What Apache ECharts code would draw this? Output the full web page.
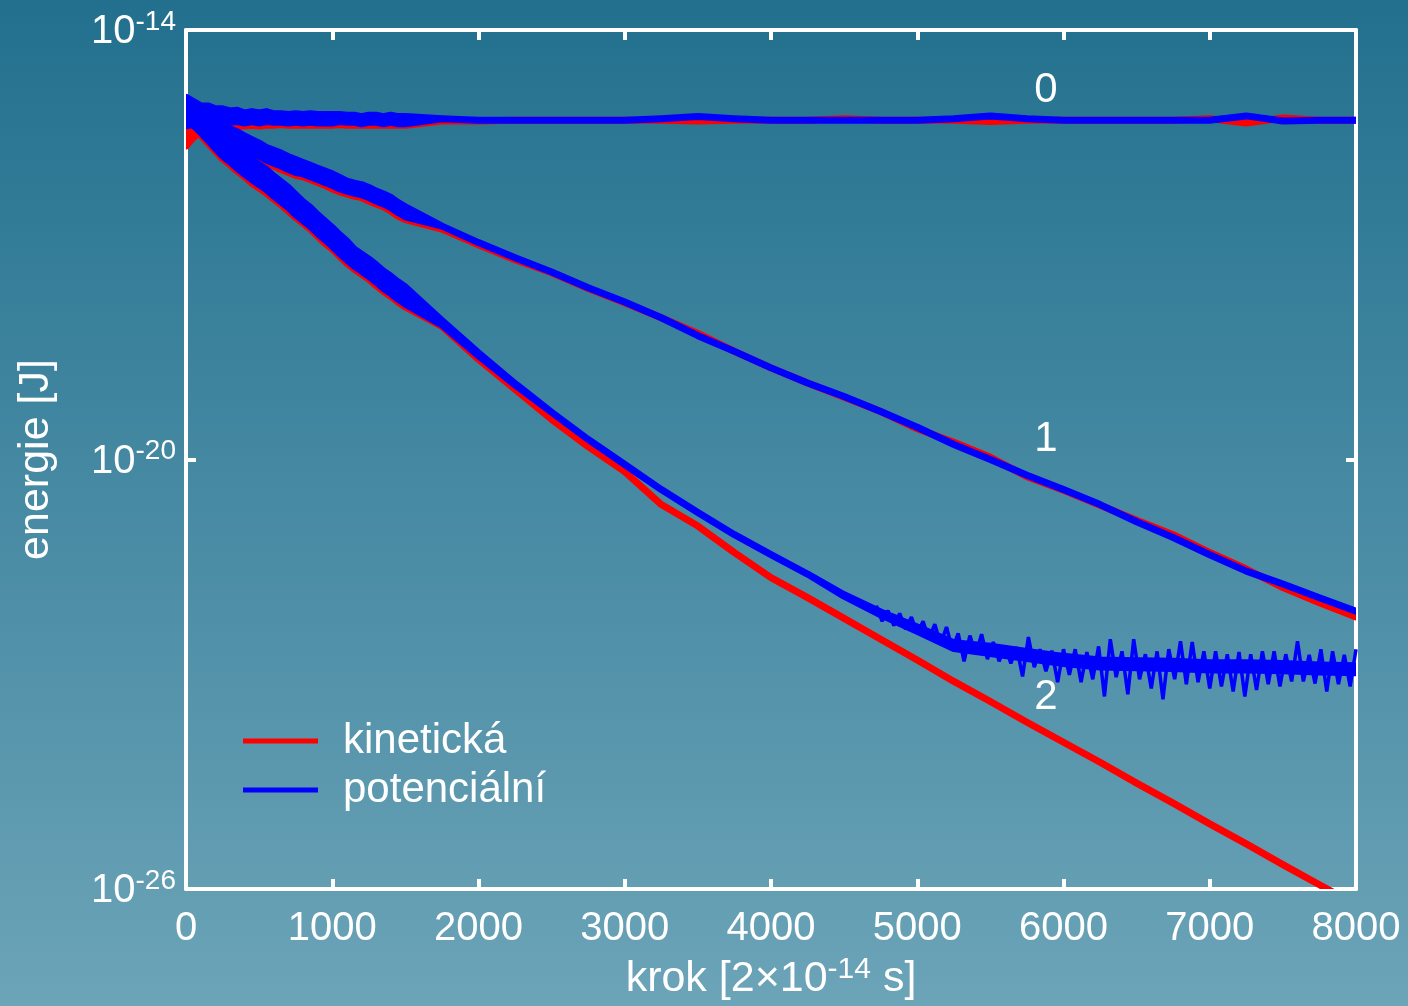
<!DOCTYPE html>
<html><head><meta charset="utf-8">
<script src="https://cdn.jsdelivr.net/npm/echarts@6/dist/echarts.min.js"></script>
<style>html,body{margin:0;padding:0;background:#4a8aa3;}#c{width:1408px;height:1006px;}</style>
</head><body><div id="c"></div>
<script>
// time steps (x), dense at the start where the curves oscillate
const steps = [0,50,100,150,200,250,300,350,400,450,500,550,600,650,700,750,800,850,900,950,1000,1050,1100,1150,1200,1250,1300,1350,1400,1450,1500,
  1750,2000,2250,2500,2750,3000,3250,3500,3750,4000,4250,4500,4750,5000,5250,5500,5750,6000,6250,6500,6750,7000,7250,7500,7750,8000];

// energies as log10(E / J)
const pot0 = [-15.14,-15.16,-15.19,-15.17,-15.20,-15.19,-15.21,-15.20,-15.23,-15.21,-15.23,-15.21,-15.23,-15.23,-15.24,-15.23,-15.24,-15.23,-15.24,-15.24,-15.24,-15.23,-15.24,-15.24,-15.26,-15.24,-15.24,-15.26,-15.24,-15.26,-15.26,
  -15.24,-15.26,-15.26,-15.26,-15.26,-15.26,-15.24,-15.21,-15.24,-15.26,-15.26,-15.26,-15.26,-15.26,-15.24,-15.20,-15.24,-15.26,-15.26,-15.26,-15.26,-15.26,-15.20,-15.27,-15.26,-15.26];
const kin0 = [-15.42,-15.34,-15.30,-15.28,-15.27,-15.27,-15.27,-15.26,-15.27,-15.26,-15.27,-15.26,-15.27,-15.26,-15.27,-15.27,-15.27,-15.27,-15.27,-15.27,-15.27,-15.27,-15.28,-15.28,-15.28,-15.28,-15.28,-15.28,-15.28,-15.28,-15.28,
  -15.27,-15.27,-15.26,-15.26,-15.26,-15.26,-15.26,-15.27,-15.26,-15.26,-15.26,-15.24,-15.26,-15.26,-15.26,-15.28,-15.26,-15.26,-15.26,-15.26,-15.26,-15.24,-15.30,-15.23,-15.26,-15.26];
const pot1 = [-15.14,-15.21,-15.26,-15.31,-15.37,-15.44,-15.48,-15.52,-15.58,-15.63,-15.67,-15.73,-15.77,-15.81,-15.86,-15.90,-15.93,-15.97,-16.01,-16.05,-16.09,-16.14,-16.18,-16.21,-16.23,-16.27,-16.32,-16.36,-16.41,-16.48,-16.54,
  -16.74,-16.97,-17.18,-17.38,-17.60,-17.80,-18.02,-18.27,-18.49,-18.72,-18.93,-19.12,-19.33,-19.55,-19.79,-20.00,-20.22,-20.42,-20.63,-20.87,-21.09,-21.33,-21.56,-21.74,-21.93,-22.12];
const kin1 = [-15.19,-15.26,-15.30,-15.35,-15.41,-15.48,-15.52,-15.56,-15.62,-15.67,-15.72,-15.77,-15.81,-15.86,-15.90,-15.94,-15.97,-16.01,-16.05,-16.09,-16.14,-16.18,-16.22,-16.25,-16.27,-16.32,-16.36,-16.40,-16.46,-16.53,-16.58,
  -16.78,-17.00,-17.21,-17.39,-17.61,-17.81,-18.02,-18.24,-18.49,-18.72,-18.93,-19.13,-19.33,-19.57,-19.76,-19.97,-20.24,-20.43,-20.64,-20.85,-21.05,-21.30,-21.53,-21.79,-22.00,-22.20];
const pot2 = [-15.14,-15.23,-15.31,-15.41,-15.51,-15.62,-15.70,-15.79,-15.87,-15.95,-16.02,-16.09,-16.18,-16.26,-16.34,-16.44,-16.53,-16.61,-16.71,-16.80,-16.89,-16.99,-17.08,-17.18,-17.25,-17.32,-17.40,-17.49,-17.56,-17.64,-17.71,
  -18.09,-18.53,-18.95,-19.34,-19.72,-20.07,-20.42,-20.74,-21.05,-21.33,-21.60,-21.90,-22.15,-22.37,-22.60,-22.66,-22.73,-22.80,-22.85,-22.86,-22.87,-22.89,-22.89,-22.90,-22.92,-22.93];
const kin2 = [-15.19,-15.27,-15.35,-15.45,-15.55,-15.66,-15.74,-15.83,-15.91,-16.00,-16.07,-16.14,-16.22,-16.30,-16.39,-16.48,-16.57,-16.65,-16.75,-16.85,-16.93,-17.03,-17.13,-17.22,-17.29,-17.36,-17.45,-17.53,-17.60,-17.68,-17.75,
  -18.14,-18.60,-19.02,-19.44,-19.82,-20.17,-20.63,-20.93,-21.30,-21.65,-21.93,-22.22,-22.51,-22.80,-23.10,-23.38,-23.67,-23.95,-24.23,-24.52,-24.80,-25.09,-25.37,-25.66,-25.94,-26.22];

// half-width of the fast-oscillation envelope (decades), first 31 steps
const spread0 = [0.20,0.16,0.13,0.11,0.10,0.09,0.08,0.08,0.07,0.07,0.07,0.07,0.06,0.06,0.06,0.06,0.06,0.06,0.06,0.06,0.06,0.05,0.05,0.05,0.05,0.05,0.05,0.05,0.05,0.05,0.05];
const spread1 = [0.07,0.09,0.10,0.11,0.11,0.11,0.10,0.10,0.10,0.10,0.09,0.09,0.09,0.09,0.09,0.09,0.08,0.08,0.08,0.08,0.08,0.08,0.07,0.07,0.07,0.07,0.07,0.07,0.07,0.07,0.07];
const spread2 = [0.07,0.10,0.12,0.13,0.14,0.14,0.14,0.14,0.14,0.14,0.14,0.14,0.14,0.14,0.14,0.14,0.13,0.13,0.13,0.13,0.13,0.13,0.13,0.12,0.12,0.12,0.12,0.12,0.12,0.12,0.12];
// envelope half-width of potential energy, mode 2, steps 1750..8000
const pot2CoreLate = [0.03,0.02,0.01,0,0,0,0,0,0,0,0,0.01,0.02,0.03,0.04,0.05,0.05,0.05,0.05,0.05,0.05,0.05,0.05,0.05,0.05,0.05];

// noisy potential energy of mode 2: alternating extremes, every 40 steps from 4720
const noiseStart = 4720, noiseStep = 40;
const pot2Noise = [-22.04,-22.26,-22.11,-22.32,-22.15,-22.37,-22.20,-22.43,-22.26,-22.51,-22.30,-22.58,-22.34,-22.65,-22.43,-22.82,-22.46,-22.72,-22.44,-22.79,
  -22.55,-22.82,-22.60,-22.85,-22.62,-23.03,-22.48,-22.90,-22.65,-22.96,-22.67,-23.11,-22.65,-23.01,-22.65,-23.11,-22.69,-23.07,-22.61,-23.31,
  -22.51,-23.04,-22.68,-23.28,-22.51,-23.07,-22.72,-23.20,-22.68,-23.35,-22.65,-23.07,-22.54,-23.14,-22.55,-23.11,-22.68,-23.20,-22.68,-23.17,
  -22.72,-23.24,-22.69,-23.31,-22.72,-23.22,-22.68,-23.14,-22.68,-23.17,-22.72,-23.10,-22.54,-23.10,-22.73,-23.13,-22.65,-23.24,-22.68,-23.14,
  -22.73,-23.17,-22.65];

// curve annotations
const annoText = ['0','1','2'];
const annoStep = [5880,5880,5880];
const annoExp = [-14.84,-19.72,-23.32];

const yTickExp = [-26,-20,-14];

const RED = '#ff0000', BLUE = '#0000ff', FONT = "'Liberation Sans', Arial, sans-serif";

function band(name, color, center, spE, spL, z) {
  const pts = steps.map((s, i) => {
    const sp = i < spE.length ? spE[i] : (spL ? spL[i - spE.length] : 0);
    return [s, Math.pow(10, center[i] + sp), Math.pow(10, center[i] - sp)];
  });
  return {
    type: 'custom', name, z, silent: true, data: pts,
    encode: { x: 0, y: [1, 2] },
    itemStyle: { color },
    renderItem(params, api) {
      if (params.dataIndex !== 0) return null;
      const up = pts.map(p => api.coord([p[0], p[1]]));
      const lo = pts.map(p => api.coord([p[0], p[2]])).reverse();
      const cs = params.coordSys;
      return {
        type: 'polygon',
        shape: { points: up.concat(lo) },
        style: { fill: color, stroke: color, lineWidth: 7, lineJoin: 'round' },
        clipPath: { type: 'rect', shape: { x: cs.x, y: cs.y, width: cs.width, height: cs.height } }
      };
    }
  };
}

const noiseData = pot2Noise.map((v, i) => [noiseStart + i * noiseStep, Math.pow(10, v)]);
const annoData = annoText.map((t, i) => [annoStep[i], Math.pow(10, annoExp[i]), t]);
const yTickVals = yTickExp.map(e => Math.pow(10, e));

const axisLine = { show: true, onZero: false, lineStyle: { color: '#fff', width: 4 } };
const axisTick = { show: true, inside: true, length: 10, lineStyle: { color: '#fff', width: 4 } };
const richSup = {
  b: { fontSize: 40, color: '#fff', fontFamily: FONT, lineHeight: 44, verticalAlign: 'bottom' },
  s: { fontSize: 28, color: '#fff', fontFamily: FONT, lineHeight: 28, verticalAlign: 'top' } };

const chart = echarts.init(document.getElementById('c'), null, { renderer: 'canvas' });
chart.setOption({
  animation: false,
  backgroundColor: new echarts.graphic.LinearGradient(0, 0, 0, 1, [
    { offset: 0, color: '#22708e' }, { offset: 1, color: '#6ca4b8' }]),
  textStyle: { fontFamily: FONT },
  grid: { left: 186, right: 52, top: 30, bottom: 116 },
  legend: {
    orient: 'vertical', left: 238, top: 713, itemWidth: 75, itemHeight: 5, itemGap: 3,
    selectedMode: false,
    data: [{ name: 'kinetická', icon: 'rect', itemStyle: { color: RED } },
           { name: 'potenciální', icon: 'rect', itemStyle: { color: BLUE } }],
    textStyle: { color: '#fff', fontSize: 42, fontFamily: FONT, lineHeight: 46, padding: [0, 0, 0, 20] }
  },
  xAxis: [{
    type: 'value', min: 0, max: 8000, interval: 1000, position: 'bottom',
    axisLine, axisTick, splitLine: { show: false },
    axisLabel: { color: '#fff', fontSize: 40, fontFamily: FONT, margin: 20, formatter: v => String(v) },
    name: '{b|krok [2×10}{s|-14}{b| s]}', nameLocation: 'middle', nameGap: 66,
    nameTextStyle: { color: '#fff', fontFamily: FONT, rich: {
      b: { fontSize: 43, color: '#fff', fontFamily: FONT, lineHeight: 46, verticalAlign: 'bottom' },
      s: { fontSize: 30, color: '#fff', fontFamily: FONT, lineHeight: 30, verticalAlign: 'top' } } }
  }, {
    type: 'value', min: 0, max: 8000, interval: 1000, position: 'top',
    axisLine, axisTick, splitLine: { show: false }, axisLabel: { show: false }
  }],
  yAxis: [{
    type: 'log', logBase: 10, min: 1e-26, max: 1e-14, position: 'left',
    axisLine, splitLine: { show: false }, minorTick: { show: false },
    axisTick: Object.assign({}, axisTick, { customValues: yTickVals }),
    axisLabel: {
      customValues: yTickVals, margin: 10, color: '#fff',
      formatter: v => '{b|10}{s|' + Math.round(Math.log10(v)) + '}',
      rich: richSup
    },
    name: 'energie [J]', nameLocation: 'middle', nameGap: 128, nameRotate: 90,
    nameTextStyle: { color: '#fff', fontSize: 43, fontFamily: FONT }
  }, {
    type: 'log', logBase: 10, min: 1e-26, max: 1e-14, position: 'right',
    axisLine, splitLine: { show: false },
    axisTick: Object.assign({}, axisTick, { customValues: yTickVals }),
    axisLabel: { show: false }
  }],
  series: [
    band('kinetická', RED, kin0, spread0, null, 2),
    band('kinetická', RED, kin1, spread1, null, 2),
    band('kinetická', RED, kin2, spread2, null, 2),
    band('potenciální', BLUE, pot0, spread0, null, 3),
    band('potenciální', BLUE, pot1, spread1, null, 3),
    band('potenciální', BLUE, pot2, spread2, pot2CoreLate, 3),
    { type: 'line', name: 'potenciální', data: noiseData, showSymbol: false, symbol: 'none',
      lineStyle: { color: BLUE, width: 3.5 }, itemStyle: { color: BLUE }, z: 4, silent: true },
    { type: 'scatter', data: annoData, symbolSize: 0, z: 6, silent: true,
      itemStyle: { opacity: 1 },
      label: { show: true, position: 'inside', formatter: p => p.data[2], color: '#ffffff', opacity: 1, fontSize: 42, fontFamily: FONT } }
  ]
});
</script>
</body></html>
